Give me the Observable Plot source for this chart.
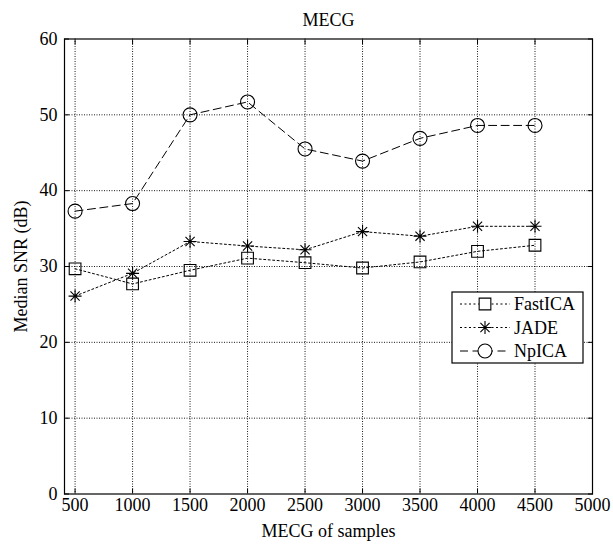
<!DOCTYPE html>
<html>
<head>
<meta charset="utf-8">
<script src="https://cdn.jsdelivr.net/npm/d3@7"></script>
<script src="https://cdn.jsdelivr.net/npm/@observablehq/plot@0.6"></script>
<style>
  html, body { margin: 0; padding: 0; background: #fff; }
  #chart svg { display: block; }
</style>
</head>
<body>
<div id="chart"></div>
<script>
// Median SNR of the separated MECG signal against the number of samples
const samples = [500, 1000, 1500, 2000, 2500, 3000, 3500, 4000, 4500];
const fastICA = [29.7, 27.7, 29.5, 31.1, 30.5, 29.8, 30.6, 32.0, 32.8];
const jade    = [26.1, 29.1, 33.3, 32.7, 32.2, 34.6, 34.0, 35.3, 35.3];
const npICA   = [37.3, 38.3, 50.0, 51.7, 45.5, 43.9, 46.9, 48.6, 48.6];

const xTicks = [500, 1000, 1500, 2000, 2500, 3000, 3500, 4000, 4500, 5000];
const yTicks = [0, 10, 20, 30, 40, 50, 60];
const seriesNames = ["FastICA", "JADE", "NpICA"];

const W = 613, H = 548;
const mL = 64, mR = 21, mT = 38.5, mB = 54.5;
const FONT = "'Liberation Serif', 'Times New Roman', serif";

// eight-armed asterisk (plus and cross)
const star8 = {
  draw(ctx, size) {
    const r = Math.sqrt(size / Math.PI);
    const d = r * Math.SQRT1_2;
    ctx.moveTo(-r, 0); ctx.lineTo(r, 0);
    ctx.moveTo(0, -r); ctx.lineTo(0, r);
    ctx.moveTo(-d, -d); ctx.lineTo(d, d);
    ctx.moveTo(-d, d); ctx.lineTo(d, -d);
  }
};

const styles = [
  {name: seriesNames[0], values: fastICA, dash: "2,2.5", symbol: "square", r: 6.6},
  {name: seriesNames[1], values: jade,    dash: "2,2.5", symbol: star8,    r: 6.5},
  {name: seriesNames[2], values: npICA,   dash: "8,4.5", symbol: "circle", r: 7}
];

const rows = styles.map(s => samples.map((x, i) => ({x, y: s.values[i]})));

const marks = [
  Plot.gridX(xTicks.slice(0, -1), {stroke: "#000", strokeOpacity: 0.9, strokeDasharray: "1,1.5"}),
  Plot.gridY(yTicks.slice(1, -1), {stroke: "#000", strokeOpacity: 0.9, strokeDasharray: "1,1.5"}),
  // inward ticks on all four sides
  Plot.axisX({ticks: xTicks, tickSize: -5, text: null, anchor: "bottom", label: null}),
  Plot.axisX({ticks: xTicks, tickSize: -5, text: null, anchor: "top", label: null}),
  Plot.axisY({ticks: yTicks, tickSize: -5, text: null, anchor: "left", label: null}),
  Plot.axisY({ticks: yTicks, tickSize: -5, text: null, anchor: "right", label: null}),
  // tick labels
  Plot.axisX({ticks: xTicks, tickSize: 0, tickPadding: 4, tickFormat: d => String(d), anchor: "bottom", label: null, fontSize: 18}),
  Plot.axisY({ticks: yTicks, tickSize: 0, tickPadding: 7, tickFormat: d => String(d), anchor: "left", label: null, fontSize: 18}),
  Plot.frame({stroke: "#000", strokeWidth: 1.2})
];

styles.forEach((s, k) => {
  marks.push(Plot.line(rows[k], {x: "x", y: "y", stroke: "#000", strokeWidth: 1, strokeDasharray: s.dash}));
  marks.push(Plot.dot(rows[k], {x: "x", y: "y", symbol: s.symbol, r: s.r, stroke: "#000", strokeWidth: 1.1, fill: "none"}));
});

// title and axis titles
marks.push(Plot.text(["MECG"], {frameAnchor: "top", lineAnchor: "middle", textAnchor: "middle", dy: -19, fontSize: 18, fill: "#000"}));
marks.push(Plot.text(["MECG of samples"], {frameAnchor: "bottom", lineAnchor: "middle", textAnchor: "middle", dy: 37, fontSize: 18, fill: "#000"}));
marks.push(Plot.text(["Median SNR (dB)"], {frameAnchor: "left", lineAnchor: "middle", textAnchor: "middle", dx: -43, rotate: -90, fontSize: 18, fill: "#000"}));

const chart = Plot.plot({
  width: W, height: H,
  marginLeft: mL, marginRight: mR, marginTop: mT, marginBottom: mB,
  style: {fontFamily: FONT, fontSize: "18px", color: "#000", background: "#fff"},
  x: {domain: [408, 5000]},
  y: {domain: [0, 60]},
  marks
});

// legend box inside the lower-right part of the frame
const svg = d3.select(chart);
const lg = svg.append("g").attr("transform", "translate(452,292)");
lg.append("rect").attr("width", 131).attr("height", 71)
  .attr("fill", "#fff").attr("stroke", "#000").attr("stroke-width", 1.2);
styles.forEach((s, k) => {
  const cy = 12 + k * 23.5;
  lg.append("line").attr("x1", 8).attr("x2", 58).attr("y1", cy).attr("y2", cy)
    .attr("stroke", "#000").attr("stroke-dasharray", s.dash);
  const sym = typeof s.symbol === "string"
    ? (s.symbol === "square" ? d3.symbolSquare : d3.symbolCircle)
    : s.symbol;
  lg.append("path").attr("transform", `translate(33,${cy})`)
    .attr("d", d3.symbol(sym, s.r * s.r * Math.PI)())
    .attr("fill", "#fff").attr("stroke", "#000").attr("stroke-width", 1.1);
  lg.append("text").attr("x", 62).attr("y", cy).attr("dy", "0.35em")
    .attr("text-anchor", "start")
    .attr("font-family", FONT).attr("font-size", 18).attr("fill", "#000")
    .text(s.name);
});

document.getElementById("chart").appendChild(chart);
</script>
</body>
</html>
